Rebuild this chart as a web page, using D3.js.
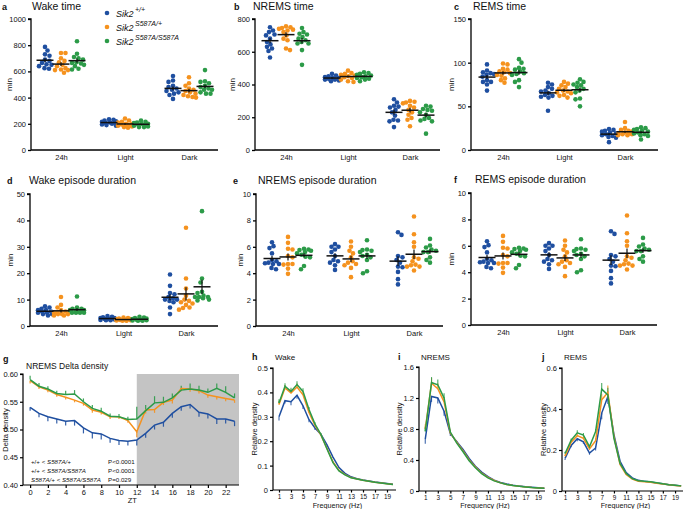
<!DOCTYPE html>
<html><head><meta charset="utf-8">
<script src="https://cdn.jsdelivr.net/npm/d3@7"></script>
<style>
body{margin:0;background:#fff}
svg{display:block}
text{font-family:"Liberation Sans",Arial,sans-serif;fill:#111}
</style>
</head><body>
<svg id="fig" width="685" height="509"></svg>
<script>
// ---------------- DATA ----------------
const genotypes = ["+/+", "S587A/+", "S587A/S587A"];
const periods = ["24h", "Light", "Dark"];

// each: [Sik2+/+, Sik2 S587A/+, Sik2 S587A/S587A]
// a  Wake time (min)
const wakeTime24h = [
  [787,760,730,720,690,680,665,655,650,640,625,620],
  [740,740,700,680,670,650,640,625,615,610,610,590],
  [830,735,710,700,690,670,665,660,650,640,620,615]];
const wakeTimeLight = [
  [235,230,225,220,215,210,205,205,200,195,190,185],
  [240,225,215,210,200,200,195,190,185,180,175,170],
  [225,215,210,205,200,200,195,190,185,180,175,175]];
const wakeTimeDark = [
  [565,530,520,490,480,470,460,450,440,430,420,390],
  [555,510,490,470,460,450,440,430,420,410,405,400],
  [610,525,520,510,490,480,470,460,460,440,430,430]];
// b  NREMS time (min)
const nremsTime24h = [
  [750,730,720,705,700,680,660,645,630,620,605,565],
  [755,750,745,740,735,730,720,700,680,670,620,610],
  [745,720,710,705,690,680,670,660,650,650,610,520]];
const nremsTimeLight = [
  [465,455,450,445,440,440,435,430,430,425,420],
  [485,470,465,460,455,450,445,440,430,420,415],
  [475,470,465,460,455,450,445,440,435,430,420]];
const nremsTimeDark = [
  [310,290,270,265,260,245,230,210,185,180,175,140],
  [300,295,290,285,270,260,245,230,215,195,185,145],
  [270,265,250,245,240,230,215,195,190,180,175,100]];
// c  REMS time (min)
const remsTime24h = [
  [98,91,89,88,87,86,84,80,78,78,75,68],
  [99,98,93,92,90,89,88,86,85,82,80,77],
  [104,100,94,93,92,90,88,87,86,80,78,72]];
const remsTimeLight = [
  [77,75,72,70,68,67,65,63,62,61,60,45],
  [78,76,74,72,70,68,67,66,65,63,62,60],
  [81,78,77,75,74,72,70,68,66,59,58,50]];
const remsTimeDark = [
  [24,23,22,21,20,19,18,17,16,15,14,9],
  [32,25,23,22,21,20,19,19,18,18,17,17],
  [26,25,24,23,22,21,20,19,18,17,16,12]];
// d  Wake episode duration (min)
const wakeEp24h = [
  [7.5,7,6.5,6,6,5.5,5.5,5,5,4.5,4.5,4],
  [11,8,7,6,5.5,5,5,4.5,4.5,4.5,4,4],
  [11.2,7,6.5,6.5,6,6,5.5,5.5,5,5,5,5]];
const wakeEpLight = [
  [3.8,3.5,3.3,3,3,2.8,2.7,2.5,2.5,2.3,2.2,2.2],
  [3.2,3,2.8,2.6,2.5,2.4,2.3,2.2,2.2,2.1,2,2],
  [3.5,3.2,3,2.8,2.6,2.5,2.4,2.3,2.2,2.1,2,2]];
const wakeEpDark = [
  [19.5,15.2,12.5,12,11,10.5,10,10,9.5,9,7,4.5],
  [37.2,18,14.2,11.5,10,9.5,9,8.5,8,7,6.8,6.2],
  [43.5,18,16.5,13,12.5,11.5,11,11,11,10.5,10,9.7]];
// e  NREMS episode duration (min)
const nremsEp24h = [
  [6.35,6.05,5.9,5.5,5.0,4.9,4.8,4.75,4.7,4.7,4.4,4.3],
  [6.75,6.3,5.85,5.8,5.3,5.2,4.7,4.7,4.65,4.35,3.95],
  [5.85,5.8,5.75,5.7,5.6,5.5,5.4,5.25,5.2,4.55,4.3]];
const nremsEpLight = [
  [6.2,6.0,6.0,5.8,5.6,5.3,5.0,4.9,4.8,4.6,4.25],
  [6.4,6.0,5.7,5.5,5.2,4.9,4.8,4.7,4.6,4.4,3.7],
  [6.5,5.8,5.75,5.7,5.6,5.4,5.3,5.2,5.0,4.15,4.0]];
const nremsEpDark = [
  [7.1,6.9,5.3,5.2,5.0,4.8,4.5,4.45,4.1,3.55,3.15],
  [8.3,6.95,6.35,6.0,5.2,5.1,4.9,4.65,4.6,4.5,4.5,4.2],
  [6.6,6.1,5.95,5.8,5.7,5.6,5.6,5.2,5.0,4.8]];
// f  REMS episode duration (min) - as printed in the figure
const remsEp24h = [
  [6.35,6.05,5.9,5.5,5.0,4.9,4.8,4.75,4.7,4.7,4.4,4.3],
  [6.75,6.3,5.85,5.8,5.3,5.2,4.7,4.7,4.65,4.35,3.95],
  [5.85,5.8,5.75,5.7,5.6,5.5,5.4,5.25,5.2,4.55,4.3]];
const remsEpLight = [
  [6.2,6.0,6.0,5.8,5.6,5.3,5.0,4.9,4.8,4.6,4.25],
  [6.4,6.0,5.7,5.5,5.2,4.9,4.8,4.7,4.6,4.4,3.7],
  [6.5,5.8,5.75,5.7,5.6,5.4,5.3,5.2,5.0,4.15,4.0]];
const remsEpDark = [
  [7.1,6.9,5.3,5.2,5.0,4.8,4.5,4.45,4.1,3.55,3.15],
  [8.3,6.95,6.35,6.0,5.2,5.1,4.9,4.65,4.6,4.5,4.5,4.2],
  [6.6,6.1,5.95,5.8,5.7,5.6,5.6,5.2,5.0,4.8]];

// g  NREMS delta density by ZT
const ztHours = [0,1,2,3,4,5,6,7,8,9,10,11,12,13,14,15,16,17,18,19,20,21,22,23];
const ztTicks = [0,2,4,6,8,10,12,14,16,18,20,22];
const deltaWT  = [0.540,0.529,0.523,0.519,0.515,0.516,0.503,0.494,0.492,0.484,0.480,0.479,0.481,0.493,0.508,0.513,0.529,0.541,0.545,0.531,0.528,0.519,0.519,0.515];
const deltaHet = [0.588,0.577,0.571,0.563,0.558,0.553,0.547,0.535,0.531,0.523,0.523,0.516,0.496,0.535,0.536,0.549,0.553,0.574,0.573,0.570,0.562,0.559,0.556,0.553];
const deltaHom = [0.590,0.578,0.573,0.565,0.563,0.564,0.550,0.538,0.533,0.524,0.523,0.518,0.519,0.534,0.548,0.549,0.557,0.571,0.573,0.571,0.567,0.574,0.567,0.557];
const deltaWTsem  = [0.006,0.007,0.008,0.008,0.008,0.009,0.010,0.010,0.010,0.008,0.008,0.008,0.010,0.008,0.008,0.008,0.008,0.007,0.007,0.008,0.008,0.009,0.008,0.009];
const deltaHetSem = [0.005,0.004,0.004,0.004,0.004,0.004,0.004,0.005,0.004,0.004,0.004,0.004,0.010,0.006,0.006,0.005,0.006,0.005,0.005,0.005,0.005,0.005,0.005,0.005];
const deltaHomSem = [0.007,0.006,0.005,0.005,0.007,0.007,0.006,0.006,0.006,0.005,0.005,0.005,0.022,0.010,0.012,0.010,0.008,0.008,0.010,0.008,0.007,0.009,0.011,0.008];
const statLines = [
  ["+/+ < ", "S587A/+", "P<0.0001"],
  ["+/+ <  ", "S587A/S587A", "P<0.0001"],
  ["S587A/+ < ", "S587A/S587A", "P=0.029"]];

// h-j  EEG spectra
const freqHz = [1,2,3,4,5,6,7,8,9,10,11,12,13,14,15,16,17,18,19,20];
const freqTicks = [1,3,5,7,9,11,13,15,17,19];
const wakeSpecWT  = [0.300,0.366,0.362,0.388,0.345,0.288,0.254,0.228,0.185,0.135,0.092,0.068,0.054,0.046,0.041,0.037,0.033,0.030,0.027,0.024];
const wakeSpecHet = [0.350,0.418,0.398,0.422,0.390,0.318,0.265,0.225,0.170,0.115,0.080,0.063,0.051,0.045,0.040,0.036,0.032,0.029,0.026,0.023];
const wakeSpecHom = [0.357,0.425,0.404,0.432,0.404,0.330,0.270,0.227,0.168,0.112,0.078,0.062,0.050,0.045,0.040,0.036,0.032,0.029,0.026,0.023];
const nremsSpecWT  = [0.67,1.22,1.20,1.03,0.74,0.64,0.54,0.42,0.32,0.245,0.185,0.14,0.11,0.09,0.075,0.063,0.054,0.047,0.041,0.036];
const nremsSpecHet = [0.80,1.39,1.32,1.15,0.75,0.63,0.52,0.40,0.31,0.23,0.175,0.135,0.105,0.085,0.07,0.06,0.052,0.045,0.04,0.035];
const nremsSpecHom = [0.77,1.40,1.37,1.20,0.76,0.62,0.51,0.39,0.30,0.225,0.17,0.13,0.105,0.085,0.07,0.06,0.052,0.045,0.04,0.035];
const remsSpecWT  = [0.159,0.222,0.255,0.240,0.185,0.210,0.380,0.460,0.275,0.145,0.090,0.064,0.052,0.047,0.044,0.039,0.035,0.031,0.028,0.025];
const remsSpecHet = [0.170,0.238,0.270,0.257,0.205,0.245,0.445,0.480,0.265,0.130,0.080,0.058,0.048,0.045,0.043,0.038,0.034,0.030,0.027,0.024];
const remsSpecHom = [0.183,0.248,0.284,0.273,0.216,0.290,0.497,0.469,0.257,0.134,0.085,0.060,0.050,0.047,0.045,0.040,0.035,0.031,0.028,0.025];
const wakeSpecSem  = [0.015,0.012,0.015,0.014,0.013,0.010,0.008,0.006,0.004,0.003,0.002,0.001,0,0,0,0,0,0,0,0];
const nremsSpecSem = [0.06,0.07,0.07,0.06,0.03,0.02,0.015,0.01,0.008,0.005,0.003,0.002,0,0,0,0,0,0,0,0];
const remsSpecSem  = [0.008,0.008,0.012,0.010,0.008,0.012,0.030,0.035,0.012,0.006,0.003,0.002,0,0,0,0,0,0,0,0];

// ---------------- STYLE ----------------
const colors = ["#1f4fa0", "#f5921e", "#2c9b48"];
const FONT = '"Liberation Sans", Arial, sans-serif';
const svg = d3.select("#fig");

function txt(g, x, y, s, size, opts = {}) {
  const t = g.append("text").attr("x", x).attr("y", y).text(s)
    .style("font-size", size + "px");
  if (opts.bold) t.style("font-weight", "bold");
  if (opts.anchor) t.attr("text-anchor", opts.anchor);
  if (opts.rotate) t.attr("transform", `rotate(-90,${x},${y})`);
  return t;
}
function styleAxis(g, w) {
  g.selectAll(".domain").attr("stroke", "#000").attr("stroke-width", w);
  g.selectAll(".tick line").attr("stroke", "#000").attr("stroke-width", w);
  g.selectAll(".tick text").style("font-family", FONT).attr("fill", "#111");
}

// beeswarm offsets (layout only)
function swarm(py, r, maxOff) {
  const order = py.map((v, i) => i).sort((a, b) => py[a] - py[b]);
  const out = new Array(py.length);
  const placed = [];
  const d = 2 * r * 0.92;
  order.forEach((i, k) => {
    const sgn = k % 2 ? 1 : -1;
    let best = 0, bestPen = Infinity;
    for (let s = 0; s <= maxOff * 2; s++) {
      for (const dir of [sgn, -sgn]) {
        const off = dir * s * 0.5;
        let pen = 0;
        placed.forEach(p => {
          const dist = Math.hypot(p[0] - off, p[1] - py[i]);
          if (dist < d) pen += d - dist;
        });
        if (pen < bestPen - 1e-6) { bestPen = pen; best = off; }
        if (s === 0) break;
      }
      if (bestPen === 0) break;
    }
    out[i] = best;
    placed.push([best, py[i]]);
  });
  return out;
}

// ---------------- DOT PANELS a-f ----------------
const dotPanels = [
  {L:"a", title:"Wake time", data:[wakeTime24h, wakeTimeLight, wakeTimeDark], max:1000, ticks:[0,200,400,600,800,1000],
   ax:31, ar:218, yt:19, yb:150, c0:61, c1:189, lx:2, tx:32, ty:10, yl:9},
  {L:"b", title:"NREMS time", data:[nremsTime24h, nremsTimeLight, nremsTimeDark], max:800, ticks:[0,200,400,600,800],
   ax:255, ar:440, yt:19, yb:150, c0:286, c1:410, lx:234, tx:253, ty:10, yl:232},
  {L:"c", title:"REMS time", data:[remsTime24h, remsTimeLight, remsTimeDark], max:150, ticks:[0,50,100,150],
   ax:471, ar:658, yt:19, yb:150, c0:503, c1:625, lx:454, tx:473, ty:10, yl:451},
  {L:"d", title:"Wake episode duration", data:[wakeEp24h, wakeEpLight, wakeEpDark], max:50, ticks:[0,10,20,30,40,50],
   ax:30, ar:218, yt:194, yb:326, c0:61, c1:186, lx:7, tx:29, ty:184, yl:10},
  {L:"e", title:"NREMS episode duration", data:[nremsEp24h, nremsEpLight, nremsEpDark], max:10, ticks:[0,2,4,6,8,10],
   ax:256, ar:443, yt:194, yb:326, c0:288, c1:414, lx:233, tx:258, ty:184, yl:240},
  {L:"f", title:"REMS episode duration", data:[remsEp24h, remsEpLight, remsEpDark], max:10, ticks:[0,2,4,6,8,10],
   ax:471, ar:657, yt:193, yb:325, c0:503, c1:627, lx:454, tx:475, ty:183, yl:451},
];

dotPanels.forEach(p => {
  const g = svg.append("g");
  const y = d3.scaleLinear().domain([0, p.max]).range([p.yb, p.yt]);
  const xc = d3.scalePoint().domain(periods).range([p.c0, p.c1]);
  const xg = d3.scalePoint().domain(genotypes).range([-16, 16]);

  const ya = g.append("g").attr("transform", `translate(${p.ax},0)`)
    .call(d3.axisLeft(y).tickValues(p.ticks).tickSize(3).tickPadding(2).tickFormat(d3.format("d")));
  ya.select(".domain").attr("d", `M-3,${p.yt}H0V${p.yb}`);
  ya.selectAll(".tick text").style("font-size", "7.5px");
  styleAxis(ya, 1.3);
  const xa = g.append("g").attr("transform", `translate(0,${p.yb})`)
    .call(d3.axisBottom(xc).tickSize(0).tickPadding(5));
  xa.select(".domain").attr("d", `M${p.ax},0H${p.ar}`);
  xa.selectAll(".tick text").style("font-size", "7.5px");
  styleAxis(xa, 1.3);

  txt(g, p.lx, p.ty, p.L, 9, {bold: true});
  txt(g, p.tx, p.ty, p.title, 10.5);
  txt(g, p.yl + 3, (p.yt + p.yb) / 2, "min", 8, {rotate: true, anchor: "middle"});

  p.data.forEach((grp, ci) => {
    grp.forEach((vals, gi) => {
      const cx = xc(periods[ci]) + xg(genotypes[gi]);
      const py = vals.map(v => y(v));
      const offs = swarm(py, 2.3, 7);
      g.append("g").selectAll("circle").data(vals).join("circle")
        .attr("cx", (d, i) => cx + offs[i]).attr("cy", d => y(d))
        .attr("r", 2.3).attr("fill", colors[gi]);
    });
    grp.forEach((vals, gi) => {
      const cx = xc(periods[ci]) + xg(genotypes[gi]);
      const m = d3.mean(vals);
      const sem = d3.deviation(vals) / Math.sqrt(vals.length);
      g.append("line").attr("x1", cx - 8.5).attr("x2", cx + 8.5)
        .attr("y1", y(m)).attr("y2", y(m)).attr("stroke", "#111").attr("stroke-width", 1.5);
      g.append("line").attr("x1", cx).attr("x2", cx)
        .attr("y1", y(m - sem)).attr("y2", y(m + sem)).attr("stroke", "#111").attr("stroke-width", 1.2);
    });
  });
});

// legend in panel a
const leg = svg.append("g");
const legY = [13, 27, 41];
genotypes.forEach((gname, i) => {
  leg.append("circle").attr("cx", 107).attr("cy", legY[i]).attr("r", 2.3).attr("fill", colors[i]);
  const t = leg.append("text").attr("x", 116).attr("y", legY[i] + 3.5).style("font-size", "9px").style("font-style", "italic");
  t.append("tspan").text("Sik2");
  t.append("tspan").attr("dy", -4.5).attr("dx", 1.5).style("font-size", "7px").text(gname);
});

// ---------------- PANEL g ----------------
(function () {
  const g = svg.append("g");
  const x = d3.scaleLinear().domain([-0.8, 23.5]).range([23, 239]);
  const y = d3.scaleLinear().domain([0.40, 0.60]).range([485, 374]);
  g.append("rect").attr("x", x(12)).attr("y", y(0.60)).attr("width", x(23.5) - x(12))
    .attr("height", y(0.40) - y(0.60)).attr("fill", "#c4c4c4");
  const ya = g.append("g").attr("transform", "translate(23,0)")
    .call(d3.axisLeft(y).tickValues([0.40,0.45,0.50,0.55,0.60]).tickSize(3).tickPadding(2).tickFormat(d3.format(".2f")));
  ya.selectAll(".tick text").style("font-size", "7.5px");
  ya.select(".domain").attr("d", "M-3,374H0V485");
  styleAxis(ya, 1.2);
  const xa = g.append("g").attr("transform", "translate(0,485)")
    .call(d3.axisBottom(x).tickValues(ztTicks).tickSize(3).tickPadding(2).tickFormat(d3.format("d")));
  xa.selectAll(".tick text").style("font-size", "7.5px");
  xa.select(".domain").attr("d", "M23,0H239");
  styleAxis(xa, 1.2);
  txt(g, 3, 362, "g", 9, {bold: true});
  txt(g, 26, 369, "NREMS Delta density", 8.5);
  txt(g, 8, 430, "Delta density", 7.5, {rotate: true, anchor: "middle"});
  txt(g, x(11.5), 503, "ZT", 7.5, {anchor: "middle"});

  const series = [[deltaWT, deltaWTsem, 1], [deltaHet, deltaHetSem, 1], [deltaHom, deltaHomSem, -1]];
  const line = d3.line().x((d, i) => x(ztHours[i])).y(d => y(d));
  [0, 1, 2].forEach(si => {
    const [vals, sem, dir] = series[si];
    g.append("g").selectAll("line").data(vals).join("line")
      .attr("x1", (d, i) => x(ztHours[i])).attr("x2", (d, i) => x(ztHours[i]))
      .attr("y1", d => y(d)).attr("y2", (d, i) => y(d - dir * sem[i]))
      .attr("stroke", colors[si]).attr("stroke-width", 1.2).attr("opacity", 0.9);
  });
  [1, 2, 0].forEach(si => {
    g.append("path").datum(series[si][0]).attr("d", line)
      .attr("fill", "none").attr("stroke", colors[si]).attr("stroke-width", 1.5);
  });
  const stY = [464, 473, 482];
  statLines.forEach((s, i) => {
    const t = g.append("text").attr("x", 31).attr("y", stY[i]).style("font-size", "6.2px");
    if (i === 2) {
      t.append("tspan").style("font-style", "italic").text("S587A/+");
      t.append("tspan").text(" < ");
    } else {
      t.append("tspan").text(s[0]);
    }
    t.append("tspan").style("font-style", "italic").text(s[1]);
    g.append("text").attr("x", 108).attr("y", stY[i]).style("font-size", "6.2px").text(s[2]);
  });
})();

// ---------------- PANELS h-j ----------------
const specPanels = [
  {L:"h", title:"Wake", series:[wakeSpecWT, wakeSpecHet, wakeSpecHom], sem:wakeSpecSem, ymax:0.5,
   yticks:[0,0.1,0.2,0.3,0.4,0.5], xd:[0,20.5], ax:273, ar:396, yt:368, yb:490, lx:252, yl:257},
  {L:"i", title:"NREMS", series:[nremsSpecWT, nremsSpecHet, nremsSpecHom], sem:nremsSpecSem, ymax:1.6,
   yticks:[0,0.4,0.8,1.2,1.6], xd:[0,20.1], ax:419, ar:545, yt:367, yb:491, lx:398, yl:402},
  {L:"j", title:"REMS", series:[remsSpecWT, remsSpecHet, remsSpecHom], sem:remsSpecSem, ymax:0.6,
   yticks:[0,0.2,0.4,0.6], xd:[0.5,20.3], ax:562, ar:683, yt:368, yb:491, lx:542, yl:546},
];
const specFmt = d => d === 0 ? "0" : d3.format(".1f")(d);
specPanels.forEach(p => {
  const g = svg.append("g");
  const x = d3.scaleLinear().domain(p.xd).range([p.ax, p.ar]);
  const y = d3.scaleLinear().domain([0, p.ymax]).range([p.yb, p.yt]);
  const ya = g.append("g").attr("transform", `translate(${p.ax},0)`)
    .call(d3.axisLeft(y).tickValues(p.yticks).tickSize(3).tickPadding(2).tickFormat(specFmt));
  ya.selectAll(".tick text").style("font-size", "7.5px");
  ya.select(".domain").attr("d", `M-3,${p.yt}H0V${p.yb}`);
  styleAxis(ya, 1.2);
  const xa = g.append("g").attr("transform", `translate(0,${p.yb})`)
    .call(d3.axisBottom(x).tickValues(freqTicks).tickSize(2.5).tickPadding(1.5).tickFormat(d3.format("d")));
  xa.selectAll(".tick text").style("font-size", "6.4px");
  xa.select(".domain").attr("d", `M${p.ax},0H${p.ar}`);
  styleAxis(xa, 1.2);
  txt(g, p.lx, 360, p.L, 9, {bold: true});
  txt(g, p.ax + 2, 360, p.title, 8);
  txt(g, p.yl, (p.yt + p.yb) / 2, "Relative density", 7.5, {rotate: true, anchor: "middle"});
  txt(g, (p.ax + p.ar) / 2 + 3, 508, "Frequency (Hz)", 7.2, {anchor: "middle"});

  const line = d3.line().x((d, i) => x(freqHz[i])).y(d => y(d));
  p.series.forEach((vals, si) => {
    const dir = si === 0 ? -1 : 1;
    g.append("g").selectAll("line").data(vals).join("line")
      .attr("x1", (d, i) => x(freqHz[i])).attr("x2", (d, i) => x(freqHz[i]))
      .attr("y1", d => y(d)).attr("y2", (d, i) => y(d + dir * p.sem[i]))
      .attr("stroke", colors[si]).attr("stroke-width", 1.1).attr("opacity", 0.85);
  });
  [0, 1, 2].forEach(si => {
    g.append("path").datum(p.series[si]).attr("d", line)
      .attr("fill", "none").attr("stroke", colors[si]).attr("stroke-width", 1.5);
  });
});
</script>
</body></html>
